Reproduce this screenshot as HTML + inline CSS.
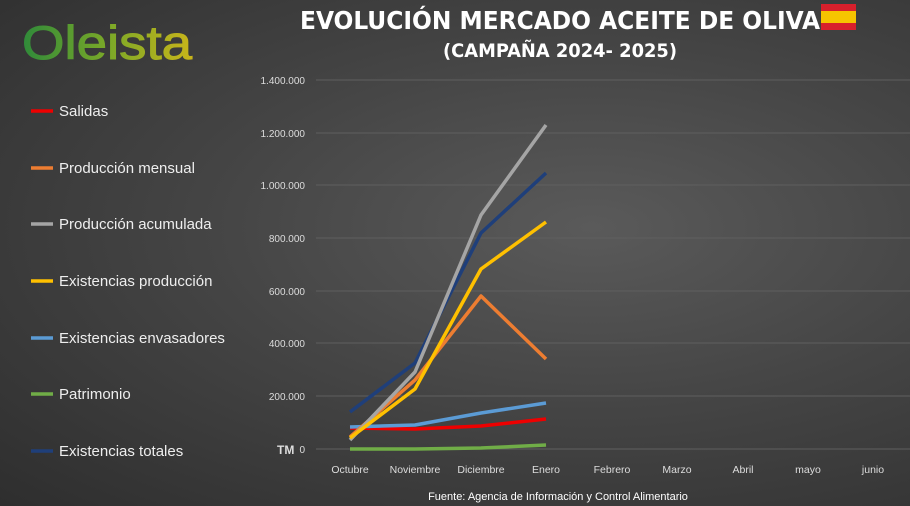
<!DOCTYPE html>
<html><head><meta charset="utf-8"><style>
body{margin:0}
#c{width:910px;height:506px;position:relative;overflow:hidden;background:radial-gradient(ellipse at 65% 45%,#5a5a5a 0%,#454545 45%,#2e2e2e 100%);font-family:"Liberation Sans",sans-serif;color:#fff}
</style></head><body><div id="c">
<svg width="910" height="506" style="position:absolute;left:0;top:0">
<defs><linearGradient id="og" x1="0" x2="1"><stop offset="0" stop-color="#2f8a3a"/><stop offset="0.5" stop-color="#7aa828"/><stop offset="1" stop-color="#c9b51a"/></linearGradient></defs>
<text x="22" y="59" font-size="47" fill="url(#og)" stroke="url(#og)" stroke-width="1" font-family="Liberation Sans Narrow, Liberation Sans, sans-serif" textLength="170" lengthAdjust="spacingAndGlyphs">Oleista</text>
<text x="560" y="29" font-size="25" font-weight="bold" text-anchor="middle" fill="#fff" font-family="DejaVu Sans Condensed, DejaVu Sans, sans-serif" textLength="520" lengthAdjust="spacingAndGlyphs">EVOLUCIÓN MERCADO ACEITE DE OLIVA</text>
<rect x="821" y="4" width="35" height="7" fill="#d8202c"/><rect x="821" y="11" width="35" height="12" fill="#f6c400"/><rect x="821" y="23" width="35" height="7" fill="#d8202c"/>
<text x="560" y="57" font-size="19" font-weight="bold" text-anchor="middle" fill="#fff" font-family="DejaVu Sans Condensed, DejaVu Sans, sans-serif" textLength="234" lengthAdjust="spacingAndGlyphs">(CAMPAÑA 2024- 2025)</text>
<g stroke="#5f5f5f" stroke-width="1">
<line x1="316" x2="910" y1="80" y2="80"/><line x1="316" x2="910" y1="133" y2="133"/><line x1="316" x2="910" y1="185" y2="185"/><line x1="316" x2="910" y1="238" y2="238"/><line x1="316" x2="910" y1="291" y2="291"/><line x1="316" x2="910" y1="343" y2="343"/><line x1="316" x2="910" y1="396" y2="396"/><line x1="316" x2="910" y1="449" y2="449"/>
</g>
<g font-size="10" fill="#ddd" text-anchor="end">
<text x="305" y="84">1.400.000</text><text x="305" y="137">1.200.000</text><text x="305" y="189">1.000.000</text><text x="305" y="242">800.000</text><text x="305" y="295">600.000</text><text x="305" y="347">400.000</text><text x="305" y="400">200.000</text><text x="305" y="453">0</text>
</g>
<text x="277" y="454" font-size="12" font-weight="bold" fill="#ddd">TM</text>
<g font-size="10.5" fill="#ddd" text-anchor="middle">
<text x="350" y="473">Octubre</text><text x="415" y="473">Noviembre</text><text x="481" y="473">Diciembre</text><text x="546" y="473">Enero</text><text x="612" y="473">Febrero</text><text x="677" y="473">Marzo</text><text x="743" y="473">Abril</text><text x="808" y="473">mayo</text><text x="873" y="473">junio</text>
</g>
<text x="558" y="500" font-size="11" fill="#fff" text-anchor="middle">Fuente: Agencia de Información y Control Alimentario</text>
<g fill="none" stroke-width="3.5" stroke-linejoin="round">
<polyline stroke="#70ad47" points="350,449 415,449 481,448 546,445"/>
<polyline stroke="#e00" points="350,428 415,429 481,426 546,419"/>
<polyline stroke="#5b9bd5" points="350,427 415,425 481,413 546,403"/>
<polyline stroke="#1f3f7a" points="350,412 415,363 481,233 546,173"/>
<polyline stroke="#ed7d31" points="350,437 415,380 481,296 546,359"/>
<polyline stroke="#a5a5a5" points="350,440 415,372 481,215 546,125"/>
<polyline stroke="#ffc000" points="350,438 415,389 481,269 546,222"/>
</g>
<g stroke-width="3.5">
<line x1="31" x2="53" y1="111" y2="111" stroke="#e00"/>
<line x1="31" x2="53" y1="168" y2="168" stroke="#ed7d31"/>
<line x1="31" x2="53" y1="224" y2="224" stroke="#a5a5a5"/>
<line x1="31" x2="53" y1="281" y2="281" stroke="#ffc000"/>
<line x1="31" x2="53" y1="338" y2="338" stroke="#5b9bd5"/>
<line x1="31" x2="53" y1="394" y2="394" stroke="#70ad47"/>
<line x1="31" x2="53" y1="451" y2="451" stroke="#1f3f7a"/>
</g>
<g font-size="15" fill="#eee">
<text x="59" y="116">Salidas</text><text x="59" y="173">Producción mensual</text><text x="59" y="229">Producción acumulada</text><text x="59" y="286">Existencias producción</text><text x="59" y="343">Existencias envasadores</text><text x="59" y="399">Patrimonio</text><text x="59" y="456">Existencias totales</text>
</g>
</svg></div></body></html>
